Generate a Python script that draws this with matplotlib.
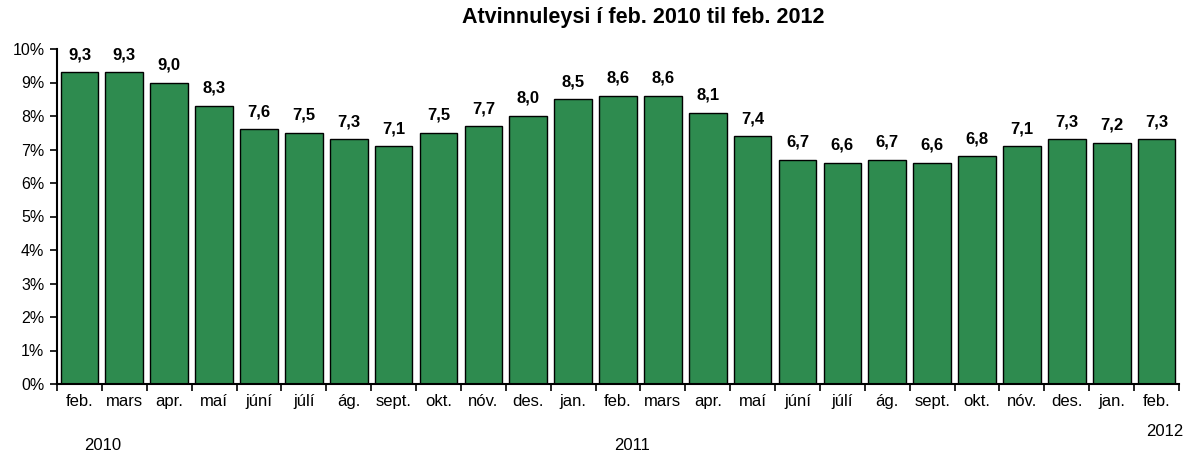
import matplotlib
matplotlib.use('Agg')
import matplotlib.pyplot as plt
import numpy as np

# Data
months = ["feb.", "mars", "apr.", "maí", "júní", "júlí", "ág.", "sept.", "okt.", "nóv.", "des.",
          "jan.", "feb.", "mars", "apr.", "maí", "júní", "júlí", "ág.", "sept.", "okt.", "nóv.", "des.",
          "jan.", "feb."]
rates = [9.3, 9.3, 9.0, 8.3, 7.6, 7.5, 7.3, 7.1, 7.5, 7.7, 8.0,
         8.5, 8.6, 8.6, 8.1, 7.4, 6.7, 6.6, 6.7, 6.6, 6.8, 7.1, 7.3,
         7.2, 7.3]
years = ["2010", "2011", "2012"]

plt.rcParams['font.family'] = ['Liberation Sans', 'DejaVu Sans']

fig = plt.figure(figsize=(11.88, 4.53), dpi=100)
ax = fig.add_axes([57 / 1188, 1 - 384 / 453, 1122 / 1188, 335 / 453])

x = np.arange(len(rates))
bars = ax.bar(x, rates, width=0.84, color='#2e8b4f', edgecolor='black', linewidth=1.0, zorder=2)

# Value labels above each bar
for bar, v in zip(bars, rates):
    ax.text(bar.get_x() + bar.get_width() / 2, v + 0.3, f"{v:.1f}".replace('.', ','),
            ha='center', va='bottom', fontsize=12, fontweight='bold')

ax.set_xlim(-0.5, len(rates) - 0.5)
ax.set_ylim(0, 10)
ax.set_yticks(range(0, 11))
ax.set_yticklabels([f"{i}%" for i in range(0, 11)], fontsize=11.5)

# Category ticks at boundaries, labels at centers
ax.set_xticks(np.arange(-0.5, len(rates)), minor=False)
ax.set_xticklabels([])
ax.set_xticks(x, minor=True)
ax.set_xticklabels(months, minor=True, fontsize=12)
ax.tick_params(axis='x', which='minor', length=0, pad=7)
ax.tick_params(axis='x', which='major', length=5, width=1.2, direction='out')
ax.tick_params(axis='y', length=5, width=1.2, direction='out', pad=4)

for side in ['top', 'right']:
    ax.spines[side].set_visible(False)
ax.spines['left'].set_linewidth(1.5)
ax.spines['bottom'].set_linewidth(1.5)

# Year labels
fig.text(103 / 1188, 1 - 445 / 453, years[0], ha='center', va='center', fontsize=12)
fig.text(632 / 1188, 1 - 445 / 453, years[1], ha='center', va='center', fontsize=12)
fig.text(1165 / 1188, 1 - 432 / 453, years[2], ha='center', va='center', fontsize=12)

fig.text(643 / 1188, 1 - 18 / 453, "Atvinnuleysi í feb. 2010 til feb. 2012",
         ha='center', va='center', fontsize=15.5, fontweight='bold')

fig.savefig('out.png', dpi=100)
